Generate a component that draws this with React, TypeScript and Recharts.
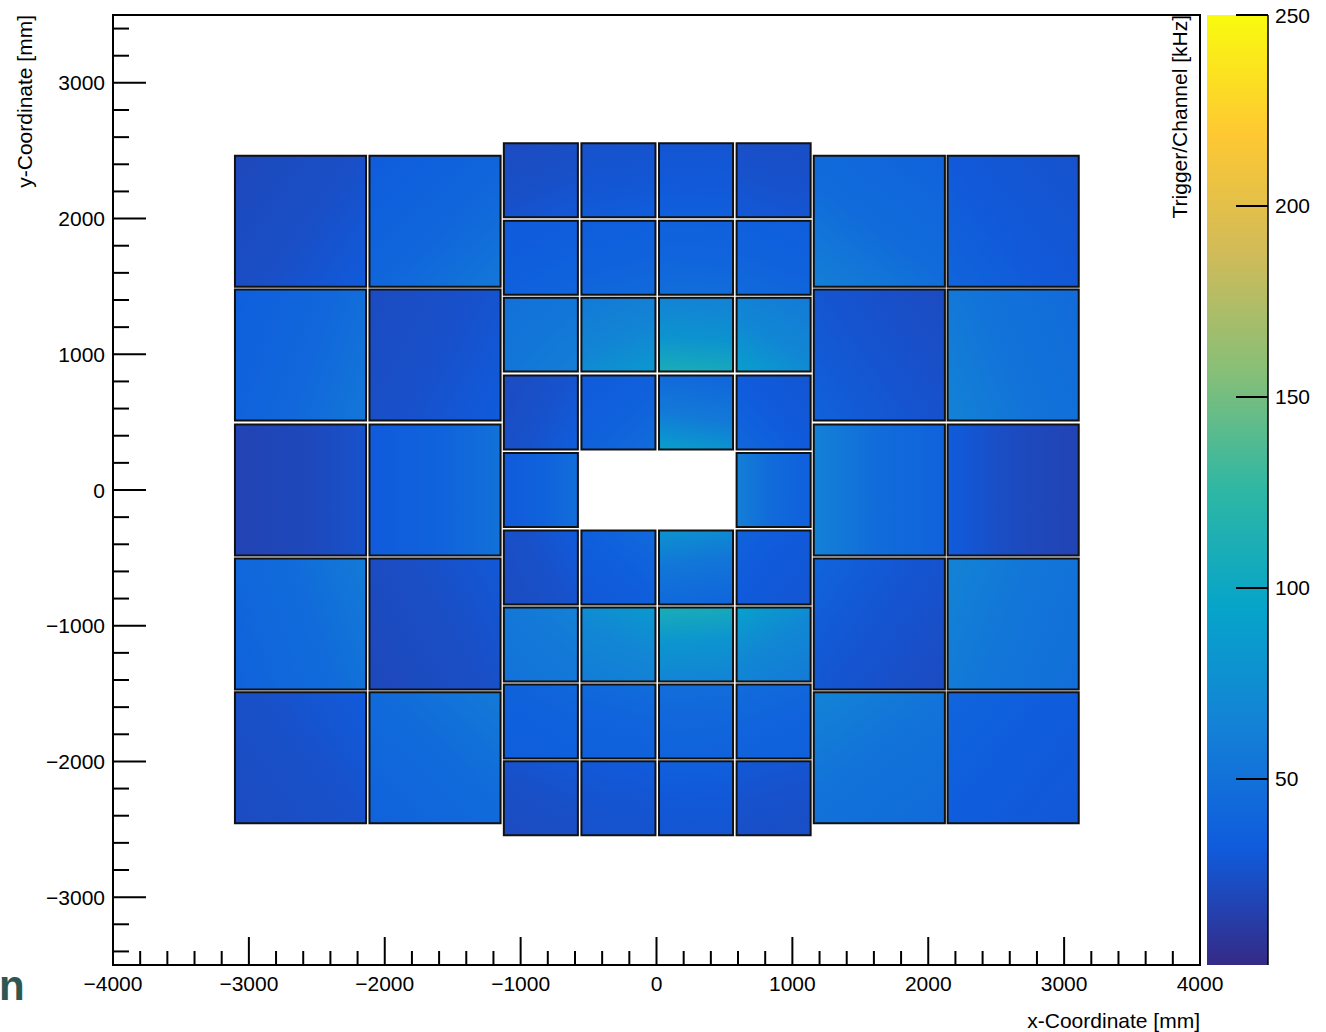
import React from 'react';
import { ScatterChart, XAxis, YAxis, ReferenceArea } from 'recharts';

// ---------- palette (ROOT kBird) ----------
const BIRD_STOPS = [0.0, 0.125, 0.25, 0.375, 0.5, 0.625, 0.75, 0.875, 1.0];
const BIRD_R = [0.2082, 0.0592, 0.078, 0.0232, 0.1802, 0.5301, 0.8186, 0.9956, 0.9764];
const BIRD_G = [0.1664, 0.3599, 0.5041, 0.6419, 0.7178, 0.7492, 0.7328, 0.7862, 0.9832];
const BIRD_B = [0.5293, 0.8684, 0.8385, 0.7914, 0.6425, 0.4662, 0.3499, 0.1968, 0.0539];

const Z_MIN = 1.3;
const Z_MAX = 250;
const Z_TICKS = [50, 100, 150, 200, 250];

// ---------- axes ----------
const X_DOMAIN = [-4000, 4000];
const Y_DOMAIN = [-3500, 3500];
const X_MAJOR = [-4000, -3000, -2000, -1000, 0, 1000, 2000, 3000, 4000];
const Y_MAJOR = [-3000, -2000, -1000, 0, 1000, 2000, 3000];
const MINOR_STEP = 200;

// ---------- detector modules ----------
const LARGE_X = [-2620, -1630, 1640, 2625];
const LARGE_Y = [1980, 995, 0, -987, -1973];
const LARGE_SIZE = 965;
// value on the outer side / inner side (toward the beam) [kHz]
const LARGE_OUTER = [
  [20, 33, 38, 26],
  [35, 22, 22, 45],
  [17, 32, 38, 17],
  [38, 20, 22, 48],
  [22, 38, 45, 30],
];
const LARGE_INNER = [
  [32, 55, 62, 40],
  [55, 33, 38, 65],
  [26, 50, 64, 33],
  [58, 30, 40, 66],
  [32, 58, 66, 40],
];

const SMALL_X = [-851, -280, 291, 862];
const SMALL_Y = [2283, 1712, 1145, 571, 0, -571, -1138, -1705, -2272];
const SMALL_SIZE = 545;
const SMALL_OUTER: (number | null)[][] = [
  [22, 26, 28, 24],
  [32, 34, 36, 34],
  [50, 58, 64, 58],
  [22, 32, 40, 28],
  [32, null, null, 36],
  [22, 30, 40, 28],
  [52, 60, 66, 58],
  [34, 36, 38, 36],
  [22, 26, 28, 24],
];
const SMALL_INNER: (number | null)[][] = [
  [30, 34, 36, 30],
  [40, 44, 48, 44],
  [62, 85, 110, 90],
  [34, 46, 90, 42],
  [48, null, null, 62],
  [32, 44, 80, 38],
  [64, 85, 110, 92],
  [42, 46, 48, 46],
  [30, 32, 36, 30],
];

const HOT_X = 200;
const HOT_Y = 0;

// ---------- layout ----------
const W = 1326;
const H = 1032;
const PLOT_L = 113;
const PLOT_R = 1200;
const PLOT_T = 15;
const PLOT_B = 965;
const BAR_L = 1207;
const BAR_R = 1268;
const FONT = '"Liberation Sans", Arial, Helvetica, sans-serif';
const FS = 21;

function palette(v: number): string {
  let t = (v - Z_MIN) / (Z_MAX - Z_MIN);
  t = Math.max(0, Math.min(1, t));
  let i = 0;
  while (i < BIRD_STOPS.length - 2 && t > BIRD_STOPS[i + 1]) i++;
  const f = (t - BIRD_STOPS[i]) / (BIRD_STOPS[i + 1] - BIRD_STOPS[i]);
  const c = (a: number[]) => Math.round(255 * (a[i] + f * (a[i + 1] - a[i])));
  return `rgb(${c(BIRD_R)},${c(BIRD_G)},${c(BIRD_B)})`;
}

type Mod = { id: string; cx: number; cy: number; size: number; outer: number; inner: number };

const modules: Mod[] = [];
LARGE_Y.forEach((cy, r) =>
  LARGE_X.forEach((cx, c) =>
    modules.push({ id: `L${r}_${c}`, cx, cy, size: LARGE_SIZE, outer: LARGE_OUTER[r][c], inner: LARGE_INNER[r][c] })
  )
);
SMALL_Y.forEach((cy, r) =>
  SMALL_X.forEach((cx, c) => {
    const o = SMALL_OUTER[r][c];
    const n = SMALL_INNER[r][c];
    if (o == null || n == null) return;
    modules.push({ id: `S${r}_${c}`, cx, cy, size: SMALL_SIZE, outer: o, inner: n });
  })
);

function gradVec(m: Mod) {
  const dx = HOT_X - m.cx;
  const dy = -(HOT_Y - m.cy);
  const len = Math.hypot(dx, dy) || 1;
  const ux = dx / len;
  const uy = dy / len;
  const k = Math.abs(ux) + Math.abs(uy);
  return {
    x1: 0.5 - 0.5 * ux * k,
    y1: 0.5 - 0.5 * uy * k,
    x2: 0.5 + 0.5 * ux * k,
    y2: 0.5 + 0.5 * uy * k,
  };
}

const xMinor: number[] = [];
for (let v = X_DOMAIN[0]; v <= X_DOMAIN[1]; v += MINOR_STEP) xMinor.push(v);
const yMinor: number[] = [];
for (let v = -3400; v <= 3400; v += MINOR_STEP) yMinor.push(v);

const fmt = (v: number) => (v < 0 ? `\u2212${Math.abs(v)}` : `${v}`);

const XTick = (props: any) => {
  const { x, y, payload } = props;
  const v = payload.value as number;
  const major = X_MAJOR.includes(v);
  return (
    <g>
      <line x1={x} x2={x} y1={y} y2={y - (major ? 28 : 14)} stroke="#000" strokeWidth={2} />
      {major && (
        <text x={x} y={y + 26} textAnchor="middle" fontFamily={FONT} fontSize={FS} fill="#000">
          {fmt(v)}
        </text>
      )}
    </g>
  );
};

const YTick = (props: any) => {
  const { y, payload } = props;
  const x = PLOT_L;
  const v = payload.value as number;
  const major = Y_MAJOR.includes(v);
  return (
    <g>
      <line x1={x} x2={x + (major ? 33 : 16)} y1={y} y2={y} stroke="#000" strokeWidth={2} />
      {major && (
        <text x={x - 8} y={y + 7.5} textAnchor="end" fontFamily={FONT} fontSize={FS} fill="#000">
          {fmt(v)}
        </text>
      )}
    </g>
  );
};

const ZTick = (props: any) => {
  const { y, payload } = props;
  const v = payload.value as number;
  return (
    <g>
      <line x1={BAR_L + 29} x2={BAR_R} y1={y} y2={y} stroke="#000" strokeWidth={2} />
      <text x={BAR_R + 7} y={y + 7.5} textAnchor="start" fontFamily={FONT} fontSize={FS} fill="#000">
        {v}
      </text>
    </g>
  );
};

export default function App() {
  return (
    <div style={{ position: 'absolute', left: 0, top: 0, width: W, height: H, background: '#fff' }}>
      <svg width={W} height={H} style={{ position: 'absolute', left: 0, top: 0 }}>
        <defs>
          <linearGradient id="zbar" x1="0" y1="1" x2="0" y2="0">
            {BIRD_STOPS.map((s, i) => (
              <stop key={i} offset={s} stopColor={`rgb(${Math.round(BIRD_R[i] * 255)},${Math.round(BIRD_G[i] * 255)},${Math.round(BIRD_B[i] * 255)})`} />
            ))}
          </linearGradient>
          {modules.map((m) => {
            const g = gradVec(m);
            return (
              <linearGradient key={m.id} id={`g_${m.id}`} x1={g.x1} y1={g.y1} x2={g.x2} y2={g.y2}>
                <stop offset="0" stopColor={palette(m.outer)} />
                <stop offset="0.55" stopColor={palette(m.outer + 0.35 * (m.inner - m.outer))} />
                <stop offset="1" stopColor={palette(m.inner)} />
              </linearGradient>
            );
          })}
        </defs>
        <rect x={BAR_L} y={PLOT_T} width={BAR_R - BAR_L} height={PLOT_B - PLOT_T} fill="url(#zbar)" />
        <line x1={BAR_R} x2={BAR_R} y1={PLOT_T} y2={PLOT_B} stroke="#000" strokeWidth={1.5} />
        <text
          transform={`translate(32, ${PLOT_T}) rotate(-90)`}
          textAnchor="end"
          fontFamily={FONT}
          fontSize={FS}
          fill="#000"
        >
          y-Coordinate [mm]
        </text>
        <text
          transform={`translate(1187, ${PLOT_T}) rotate(-90)`}
          textAnchor="end"
          fontFamily={FONT}
          fontSize={FS}
          fill="#000"
        >
          Trigger/Channel [kHz]
        </text>
        <text x={PLOT_R} y={1028} textAnchor="end" fontFamily={FONT} fontSize={FS} fill="#000">
          x-Coordinate [mm]
        </text>
        <text x={-1} y={1000} fontFamily={FONT} fontSize={42} fontWeight="bold" fill="#2d5752">
          n
        </text>
      </svg>
      <div style={{ position: 'absolute', left: 0, top: 0 }}>
        <ScatterChart width={W} height={H} margin={{ top: PLOT_T, right: 0, bottom: 0, left: PLOT_L - 40 }}>
          <XAxis
            type="number"
            dataKey="x"
            domain={X_DOMAIN}
            ticks={xMinor}
            interval={0}
            allowDataOverflow
            height={H - PLOT_B}
            tickSize={0}
            tickMargin={0}
            tickLine={false}
            axisLine={false}
            tick={<XTick />}
          />
          <YAxis
            type="number"
            dataKey="y"
            domain={Y_DOMAIN}
            ticks={yMinor}
            interval={0}
            allowDataOverflow
            width={40}
            tickSize={0}
            tickMargin={0}
            tickLine={false}
            axisLine={false}
            tick={<YTick />}
          />
          <YAxis
            yAxisId="z"
            orientation="right"
            type="number"
            domain={[Z_MIN, Z_MAX]}
            ticks={Z_TICKS}
            interval={0}
            allowDataOverflow
            width={W - PLOT_R}
            tickSize={0}
            tickMargin={0}
            tickLine={false}
            axisLine={false}
            tick={<ZTick />}
          />
          {modules.map((m) => (
            <ReferenceArea
              key={m.id}
              x1={m.cx - m.size / 2}
              x2={m.cx + m.size / 2}
              y1={m.cy - m.size / 2}
              y2={m.cy + m.size / 2}
              fill={`url(#g_${m.id})`}
              fillOpacity={1}
              stroke="#111"
              strokeWidth={2}
              ifOverflow="visible"
            />
          ))}
          <ReferenceArea
            x1={X_DOMAIN[0]}
            x2={X_DOMAIN[1]}
            y1={Y_DOMAIN[0]}
            y2={Y_DOMAIN[1]}
            fill="none"
            fillOpacity={0}
            stroke="#000"
            strokeWidth={2}
            ifOverflow="visible"
          />
        </ScatterChart>
      </div>
    </div>
  );
}
